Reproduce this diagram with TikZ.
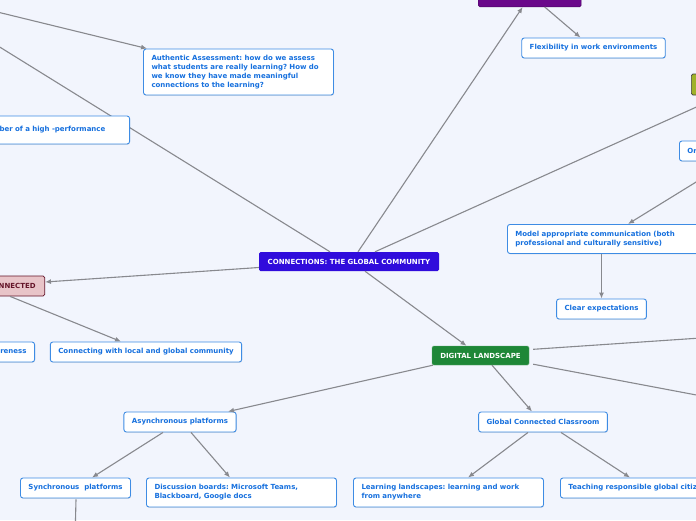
\documentclass[tikz,border=0pt]{standalone}
\usepackage{fontspec}
\setmainfont{DejaVu Sans}
\usepackage{xcolor}
\usetikzlibrary{arrows.meta,positioning,calc,shadows}

\definecolor{canvas}{RGB}{242,245,253}
\definecolor{leafline}{RGB}{62,140,228}
\definecolor{leaftext}{RGB}{22,112,222}
\definecolor{rootblue}{RGB}{48,12,220}
\definecolor{plum}{RGB}{106,8,138}
\definecolor{moss}{RGB}{160,178,40}
\definecolor{forest}{RGB}{30,135,55}
\definecolor{rosefill}{RGB}{232,196,200}
\definecolor{wine}{RGB}{100,20,40}
\definecolor{edgegray}{RGB}{136,137,142}
\frenchspacing

\begin{document}
\begin{tikzpicture}[x=1pt,y=-1pt,
  leaf/.style={draw=leafline,line width=0.9pt,rounded corners=2.5pt,fill=white,
               text=leaftext,font=\fontsize{7}{9}\selectfont\bfseries,
               inner xsep=8pt,inner ysep=3pt,minimum height=20pt,
               drop shadow={shadow xshift=0.5pt,shadow yshift=-0.8pt,opacity=0.2}},
  topic/.style={rounded corners=1.5pt,text=white,font=\fontsize{7}{9}\selectfont\bfseries,
                inner xsep=8pt,minimum height=19pt},
  arr/.style={-{Latex[length=6pt,width=5pt]},line width=1.1pt,draw=edgegray},
  link/.style={line width=1.1pt,draw=edgegray}
]
\useasboundingbox (0,0) rectangle (696,520);
\fill[canvas] (0,0) rectangle (696,520);

% root, and the branch that runs under the left node
\node[topic,fill=rootblue,minimum width=180pt] (root) at (349,261.5) {CONNECTIONS: THE GLOBAL COMMUNITY};
\coordinate (offTL) at (-60,10);
\draw[link] ([xshift=-19pt]root.north) -- (offTL);

% main topics
\node[topic,fill=plum,draw=plum!70!black,minimum width=103pt,minimum height=24pt,anchor=south west] (plum) at (478,7) {};
\node[topic,fill=moss,draw=black!75,line width=0.7pt,minimum width=110pt,minimum height=21pt,anchor=west] (moss) at (691,84.5) {};
\node[topic,fill=forest,draw=forest!70!white,minimum width=97pt] (digital) at (480.5,355.5) {DIGITAL LANDSCAPE};
\node[topic,fill=rosefill,draw=wine,line width=0.7pt,text=wine,inner xsep=9pt,minimum height=20pt,anchor=east] (connected) at (45,286) {NNECTED};

% leaves
\node[leaf,minimum width=143pt] (flex) at (593.5,48) {Flexibility in work environments};
\node[leaf,text width=174pt,align=left,minimum height=46pt] (assess) at (238.5,72)
  {Authentic Assessment: how do we assess\\what students are really learning? How do\\we know they have made meaningful\\connections to the learning?};
\node[leaf,text width=122pt,align=left,minimum height=28pt,anchor=east] (team) at (130,130) {ber of a high -performance};
\node[leaf,text width=100pt,align=left,anchor=west] (orient) at (679,151) {Or};
\node[leaf,text width=200pt,align=left,minimum height=29pt,anchor=north west] (model) at (507,224)
  {Model appropriate communication (both\\professional and culturally sensitive)};
\node[leaf,minimum width=89pt] (clear) at (601.5,309) {Clear expectations};
\node[leaf,anchor=east] (aware) at (35,352) {areness};
\node[leaf,minimum width=190pt] (community) at (146,352) {Connecting with local and global community};
\node[leaf,minimum width=112pt] (async) at (180,422) {Asynchronous platforms};
\node[leaf,minimum width=128pt] (global) at (543,422) {Global Connected Classroom};
\node[leaf,minimum width=109pt] (sync) at (75.5,488) {Synchronous\ \ platforms};
\node[leaf,text width=174pt,align=left,minimum height=29pt] (boards) at (241.5,492.5)
  {Discussion boards: Microsoft Teams,\\Blackboard, Google docs};
\node[leaf,text width=174pt,align=left,minimum height=29pt] (landscapes) at (448.5,492.5)
  {Learning landscapes: learning and work\\from anywhere};
\node[leaf,text width=180pt,align=left,anchor=west] (citizen) at (560,488) {Teaching responsible global citiz};

% free ends off the page
\coordinate (offA) at (-60,-2);
\coordinate (offR1) at (760,334);
\coordinate (offR2) at (760,407);
\coordinate (offB) at (75,540);

\draw[arr] ([xshift=9pt]root.north) -- ([xshift=-7pt]plum.south);
\draw[arr] ([xshift=15pt]plum.south) -- ([xshift=-13pt]flex.north);
\draw[arr] ([xshift=26pt]root.north) -- (moss);
\draw[arr] (offA) -- ([xshift=4pt]assess.north west);
\draw[arr] ([xshift=-8pt]orient.south) -- ([xshift=121pt]model.north west);
\draw[arr] (clear.north |- model.south) -- (clear.north);
\draw[arr] ([yshift=-6pt]root.west) -- ([yshift=4pt]connected.east);
\draw[arr] ([xshift=-35pt]connected.south east) -- ([xshift=-25pt]community.north);
\draw[arr] ([xshift=16pt]root.south) -- ([xshift=-14pt]digital.north);
\draw[link] ([xshift=4pt,yshift=-3.5pt]digital.north east) -- (offR1);
\draw[link] ([xshift=4pt,yshift=1pt]digital.south east) -- (offR2);
\draw[arr] ([xshift=1pt]digital.south west) -- ([xshift=48pt]async.north);
\draw[arr] ([xshift=11.5pt]digital.south) -- ([xshift=-11pt]global.north);
\draw[arr] ([xshift=-15pt]global.south) -- ([xshift=19.5pt]landscapes.north);
\draw[arr] ([xshift=18pt]global.south) -- ([xshift=70pt]citizen.north west);
\draw[arr] ([xshift=-17pt]async.south) -- ([xshift=16.5pt]sync.north);
\draw[arr] ([xshift=11pt]async.south) -- ([xshift=-11.5pt]boards.north);
\draw[link] ([xshift=0.5pt,yshift=-1pt]sync.south) -- (offB);
\end{tikzpicture}
\end{document}
